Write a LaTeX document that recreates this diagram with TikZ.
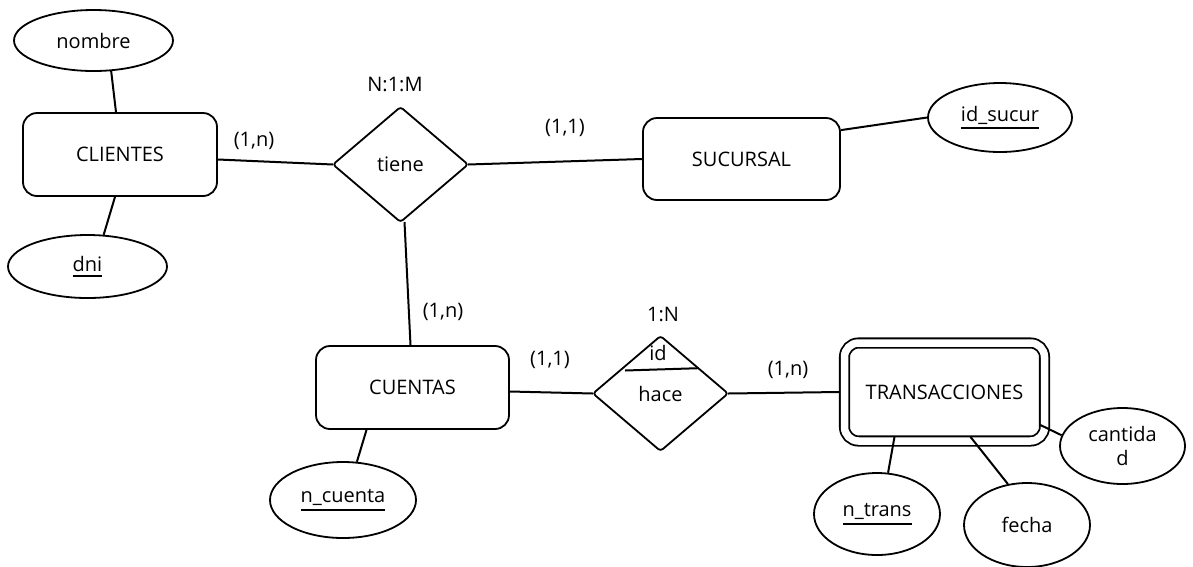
\documentclass[tikz,border=0pt]{standalone}
\usepackage{fontspec}
\setmainfont{Open Sans}
\usetikzlibrary{shapes.geometric,calc}
% key attribute: text with a thick rule below it
\newcommand\keyattr[1]{\vtop{\hbox{#1}\kern3pt\hrule height 1.8pt}}
\begin{document}
\begin{tikzpicture}[x=1pt,y=-1pt,
  every node/.style={font=\fontsize{20}{24}\selectfont},
  entity/.style={draw, rounded corners=14pt, inner sep=0pt, line width=1.8pt},
  weakentity/.style={entity, double, double distance=7.5pt},
  rel/.style={draw, diamond, inner sep=0pt, outer sep=0pt, rounded corners=3pt, line width=1.8pt},
  attr/.style={draw, ellipse, inner sep=0pt, line width=1.8pt, align=center},
  conn/.style={line width=2pt},
  card/.style={inner sep=0pt}]
\useasboundingbox (0,0) rectangle (1193,566);

% entities
\node[entity, minimum width=194pt, minimum height=83pt] (clientes) at (120,154.5) {CLIENTES};
\node[entity, minimum width=197pt, minimum height=82pt] (sucursal) at (741.5,159) {SUCURSAL};
\node[entity, minimum width=193pt, minimum height=83pt] (cuentas) at (412.5,387.5) {CUENTAS};
\node[weakentity, minimum width=200pt, minimum height=98pt] (trans) at (944.5,392) {TRANSACCIONES};

% relationships
\node[rel, minimum width=135pt, minimum height=115pt] (tiene) at (400.5,164.5) {tiene};
\node[rel, minimum width=135pt, minimum height=115pt] (hace) at (660.5,393.5) {hace};
\node[inner sep=0pt] (hid) at (658,353) {id};
\draw[conn] ($(hace.north)!0.6!(hace.west)+(5,0)$) -- ($(hace.north)!0.56!(hace.east)$);

% attributes
\node[attr, minimum width=159pt, minimum height=61pt] (nombre) at (93.5,40.5) {nombre};
\node[attr, minimum width=159pt, minimum height=63pt] (dni) at (87.5,266.5) {\keyattr{dni}};
\node[attr, minimum width=144pt, minimum height=69pt] (idsucur) at (1000,117.5) {\keyattr{id\_sucur}};
\node[attr, minimum width=146pt, minimum height=76pt] (ncuenta) at (343,500) {\keyattr{n\_cuenta}};
\node[attr, minimum width=126pt, minimum height=82pt] (ntrans) at (877,514) {\keyattr{n\_trans}};
\node[attr, minimum width=126pt, minimum height=84pt] (fecha) at (1027,525) {fecha};
\node[attr, minimum width=125pt, minimum height=76pt] (cantidad) at (1122.5,446) {cantida\\d};

% cardinalities
\node[card] (c1) at (254,141) {(1,n)};
\node[card] (c2) at (395,84) {N:1:M};
\node[card] (c3) at (565,128) {(1,1)};
\node[card] (c4) at (443,312) {(1,n)};
\node[card] (c5) at (550,360) {(1,1)};
\node[card] (c6) at (663,314) {1:N};
\node[card] (c7) at (788,370) {(1,n)};

% connectors
\draw[conn] ([yshift=-5pt]clientes.east) -- (tiene.west);
\draw[conn] (tiene.east) -- (sucursal.west);
\draw[conn] ([xshift=4pt]tiene.south) -- ([xshift=-2pt]cuentas.north);
\draw[conn] ([yshift=-4pt]cuentas.east) -- (hace.west);
\draw[conn] (hace.east) -- ([xshift=-4.5pt]trans.west);

\draw[conn] (nombre.-60) -- ([xshift=-4pt]clientes.north);
\draw[conn] ([xshift=-5pt]clientes.south) -- (dni.63);
\draw[conn] ([yshift=-13pt]sucursal.north east) -- (idsucur.west);
\draw[conn] ([xshift=-46pt]cuentas.south) -- (ncuenta.70);
\draw[conn] ([xshift=-50pt,yshift=5pt]trans.south) -- (ntrans.75);
\draw[conn] ([xshift=26pt,yshift=5pt]trans.south) -- (fecha.115);
\draw[conn] ([xshift=-5pt,yshift=-33pt]trans.east) -- (cantidad.170);
\end{tikzpicture}
\end{document}
